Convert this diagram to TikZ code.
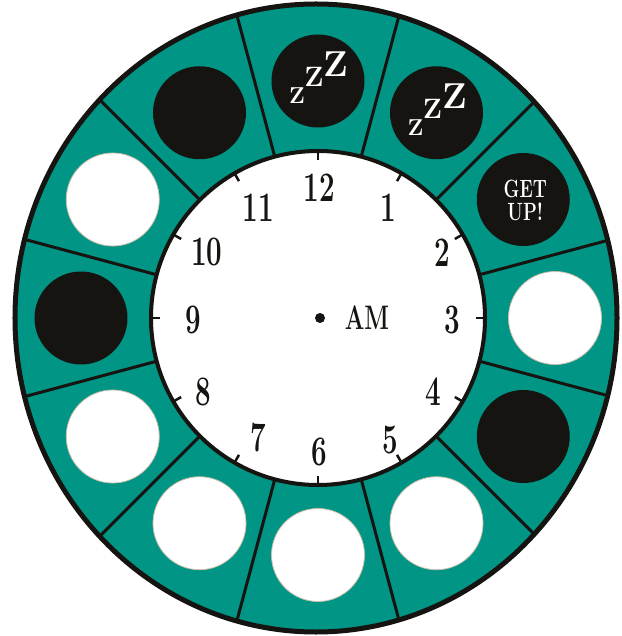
\documentclass[tikz,border=0pt]{standalone}
\usepackage{graphicx}
\definecolor{sea}{RGB}{0,149,133}
\definecolor{coal}{RGB}{22,20,16}
\definecolor{rim}{RGB}{205,190,170}
\newcommand\squeezed[2][0.66]{\scalebox{#1}[1]{#2}}
\tikzset{
  slot/.style={circle,fill=#1,minimum size=93pt,inner sep=0pt},
  slot/.default=white,
  empty slot/.style={slot=white,draw=rim,line width=0.8pt},
  divider/.style={draw=coal,line width=3pt},
  tick/.style={draw=coal,line width=2.5pt},
  hour/.style={text=coal,inner sep=0pt,font=\bfseries\fontsize{42}{42}\selectfont},
  snore/.style={text=white,inner sep=0pt,font=\bfseries\fontsize{#1}{#1}\selectfont},
  shout/.style={text=white,inner sep=0pt,font=\bfseries\fontsize{25}{25}\selectfont},
  % pictograms
  pics/zzz/.style={code={
    \node[snore=23] (-s) at (-21,-15) {Z};
    \node[snore=28] (-m) at (-4,4) {Z};
    \node[snore=36] (-l) at (18,17) {Z};
  }},
}
\begin{document}
\begin{tikzpicture}[x=1pt,y=1pt]
  \useasboundingbox (-318,-318) rectangle (303,318);
  \clip (-318,-318) rectangle (303,318);
  \fill[sea] (-2,0) ellipse [x radius=301,y radius=314];
  \begin{scope}
    \clip (-2,0) ellipse [x radius=301,y radius=314];
    \foreach \a in {15,45,...,345} \draw[divider] (\a:160) -- (\a:340);
  \end{scope}
  % outer slots
  \foreach \h/\c in {1/coal,2/coal,4/coal,9/coal,11/coal,12/coal}
    \node[slot=\c] (slot\h) at ({90-30*\h}:237) {};
  \foreach \h in {3,5,6,7,8,10}
    \node[empty slot] (slot\h) at ({90-30*\h}:237) {};
  \pic (nap12) at (slot12) {zzz};
  \pic (nap1) at (slot1) {zzz};
  \node[shout] (get) at ([shift={(2,11)}]slot2) {\squeezed[0.72]{GET}};
  \node[shout] (up) at ([shift={(2,-12)}]slot2) {\squeezed[0.72]{UP!}};
  % dial
  \filldraw[fill=white,draw=coal,line width=4pt] (0,0) circle (167);
  \foreach \a in {0,30,...,330} \draw[tick] (\a:168) -- (\a:158);
  \foreach \h/\p in {12/{1,130},1/{70,110},2/{124,65},3/{134,-2},4/{115,-74},
      5/{72,-122},6/{1,-134},7/{-60,-120},8/{-115,-74},9/{-125,-2},
      10/{-111,66},11/{-60,110}}
    \node[hour] (h\h) at (\p) {\squeezed{\h}};
  \node[circle,fill=coal,minimum size=10pt,inner sep=0pt] (hub) at (2,0) {};
  \node[hour,font=\bfseries\fontsize{34}{34}\selectfont] (am) at (49,0) {\squeezed[0.68]{AM}};
  \draw[coal,line width=5pt] (-2,0) ellipse [x radius=301,y radius=314];
\end{tikzpicture}
\end{document}
